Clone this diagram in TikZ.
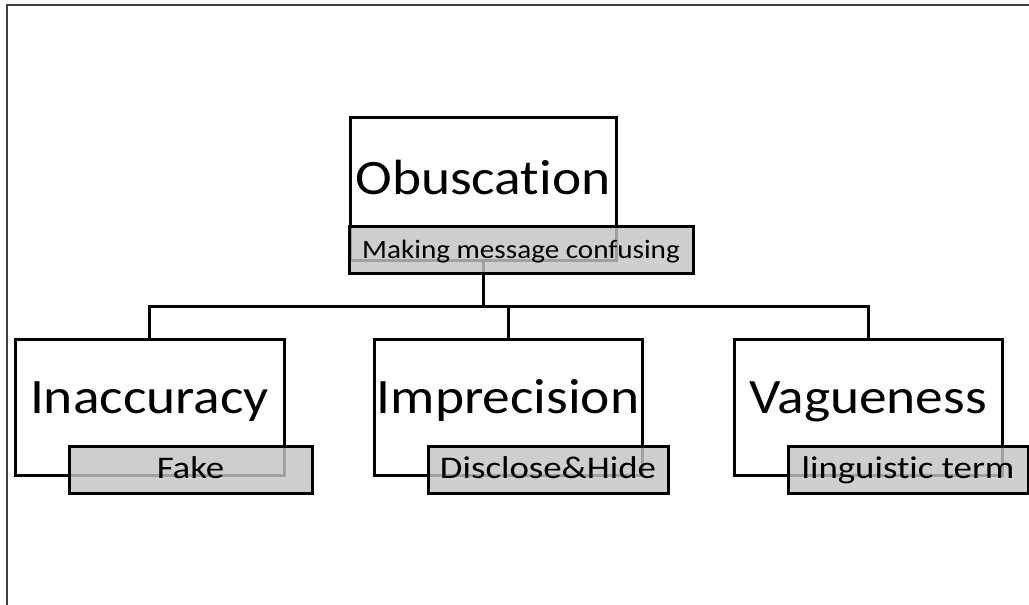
\documentclass[tikz,border=0pt]{standalone}
\usepackage{fontspec}
\setmainfont{Carlito}[Ligatures=NoCommon]
\newfontfamily\conceptfam{Carlito}[FakeStretch=1.12, Ligatures=NoCommon]
\newfontfamily\tagfam{Carlito}[FakeStretch=1.17, Ligatures=NoCommon]
\newfontfamily\toptagfam{Carlito}[FakeStretch=1.10, Ligatures=NoCommon]
\definecolor{framegray}{RGB}{64,64,64}
\definecolor{labelgray}{RGB}{196,196,196}
\tikzset{
  conceptbox/.style={draw, line width=3pt, fill=white, inner sep=0pt,
    text height=32pt, text depth=20pt, font=\conceptfam\fontsize{49.5}{55}\selectfont},
  tagbox/.style={draw, line width=3pt, fill=labelgray, fill opacity=0.82,
    text opacity=1, inner sep=0pt, minimum height=47pt,
    text height=20pt, text depth=3pt},
  tagfont/.style={font=\tagfam\fontsize{31.5}{36}\selectfont},
  link/.style={line width=3pt, line join=miter}
}
\begin{document}
\begin{tikzpicture}[x=1pt,y=-1pt]
  \useasboundingbox (0,0) rectangle (1029,605);
  % page frame (left and top edges)
  \draw[framegray, line width=2pt] (7,610) -- (7,5) -- (1035,5);

  % concept boxes
  \node[conceptbox, minimum width=266pt, minimum height=143pt] (obus) at (483,188.5) {Obuscation};
  \node[conceptbox, minimum width=269pt, minimum height=136pt] (inac) at (149.5,407) {Inaccuracy};
  \node[conceptbox, minimum width=268pt, minimum height=136pt] (impr) at (508,407) {Imprecision};
  \node[conceptbox, minimum width=268pt, minimum height=136pt] (vague) at (868,407) {Vagueness};

  % tree connectors
  \coordinate (bus) at (483,306);
  \draw[link] (obus.south) -- (bus);
  \draw[link] (bus) -| (inac.north);
  \draw[link] (bus) -| (impr.north);
  \draw[link] (bus) -| (vague.north);

  % description tags
  \node[tagbox, minimum width=344pt, font=\toptagfam\fontsize{26.5}{30}\selectfont] (obustag) at (521,249.5) {Making message confusing};
  \node[tagbox, tagfont, minimum width=243pt] (inactag) at (190.5,469.5) {Fake};
  \node[tagbox, tagfont, minimum width=240pt] (imprtag) at (548,469.5) {Disclose\&Hide};
  \node[tagbox, tagfont, minimum width=240pt] (vaguetag) at (908,469.5) {linguistic term};
\end{tikzpicture}
\end{document}
